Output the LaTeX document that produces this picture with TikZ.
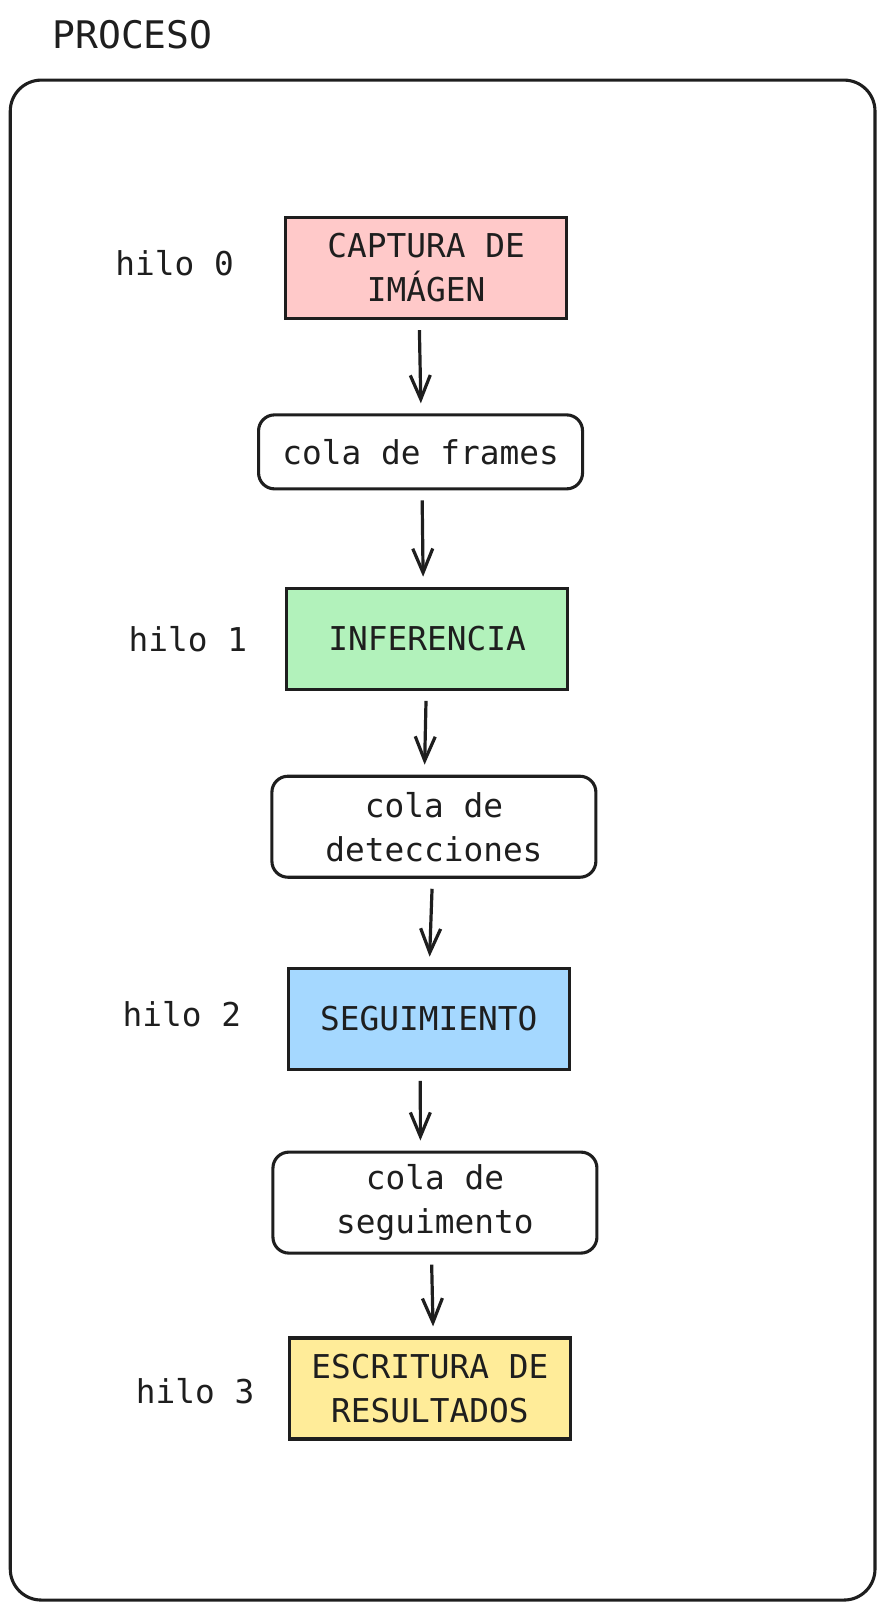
\documentclass[tikz,border=0pt]{standalone}
\usepackage{fontspec}
\usetikzlibrary{arrows.meta, positioning}
\newfontfamily\handfont{DejaVu Sans Mono}
\definecolor{inkc}{HTML}{1E1E1E}
\definecolor{redfill}{HTML}{FFC9C9}
\definecolor{greenfill}{HTML}{B2F2BB}
\definecolor{bluefill}{HTML}{A5D8FF}
\definecolor{yellowfill}{HTML}{FFEC99}

\begin{document}
\begin{tikzpicture}[x=1.027pt, y=-1.027pt,
    every node/.style={font=\handfont\fontsize{32.8}{44}\selectfont, text=inkc},
    stage/.style={draw=inkc, line width=3.1pt, minimum width=281pt, minimum height=101pt, inner sep=0pt, align=center},
    queue/.style={draw=inkc, line width=3.1pt, rounded corners=16pt, minimum width=324pt, minimum height=101pt, inner sep=0pt, align=center},
    flow/.style={draw=inkc, line width=3.2pt, shorten <=10pt, shorten >=10pt, -{Straight Barb[length=24pt, width=20pt, line width=3.2pt]}}]
    \useasboundingbox (0,0) rectangle (861.7,1567.7);

    % Frame
    \node (title) at (129,34) [font=\handfont\fontsize{38}{42}\selectfont] {PROCESO};
    \draw[inkc, line width=3.1pt, rounded corners=31pt] (10,78) rectangle (852,1558);

    % Nodes
    \node (captura) at (415,261) [stage, fill=redfill] {CAPTURA DE\\IMÁGEN};
    \node (frames) at (409.5,440) [queue, minimum height=74pt] {cola de frames};
    \node (inferencia) at (416,622) [stage, fill=greenfill] {INFERENCIA};
    \node (detecciones) at (422.5,805) [queue] {cola de\\detecciones};
    \node (seguimiento) at (417.5,992) [stage, fill=bluefill] {SEGUIMIENTO};
    \node (colaseg) at (423.5,1171) [queue] {cola de\\seguimento};
    \node (escritura) at (418.5,1352) [stage, fill=yellowfill] {ESCRITURA DE\\RESULTADOS};

    % Labels
    \node (hilo0) at (170,256) {hilo 0};
    \node (hilo1) at (183,622) {hilo 1};
    \node (hilo2) at (177,988) {hilo 2};
    \node (hilo3) at (190,1355) {hilo 3};

    % Arrows
    \draw[flow] ([xshift=-7pt]captura.south) -- ([xshift=0.5pt]frames.north);
    \draw[flow] ([xshift=1.5pt]frames.south) -- ([xshift=-4pt]inferencia.north);
    \draw[flow] ([xshift=-1pt]inferencia.south) -- ([xshift=-9.5pt]detecciones.north);
    \draw[flow] ([xshift=-1.5pt]detecciones.south) -- ([xshift=0.5pt]seguimiento.north);
    \draw[flow] ([xshift=-8.5pt]seguimiento.south) -- ([xshift=-14.5pt]colaseg.north);
    \draw[flow] ([xshift=-3.5pt]colaseg.south) -- ([xshift=3.5pt]escritura.north);
\end{tikzpicture}
\end{document}
